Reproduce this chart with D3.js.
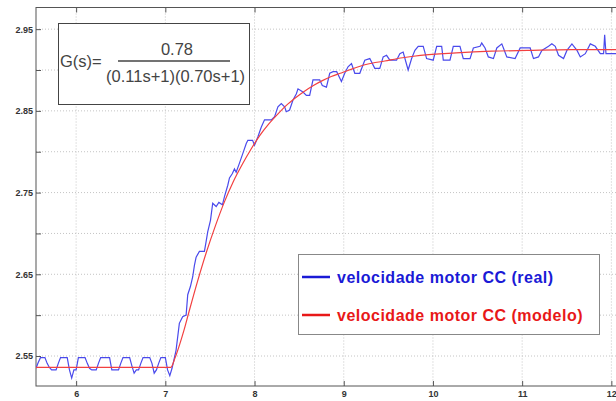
<!DOCTYPE html>
<html>
<head>
<meta charset="utf-8">
<script src="https://cdn.jsdelivr.net/npm/d3@7"></script>
<style>
  body { margin: 0; background: #fff; overflow: hidden; }
  svg { display: block; font-family: "Liberation Sans", Arial, sans-serif; }
</style>
</head>
<body>
<script>
// axis ticks
const xTicks = [6, 7, 8, 9, 10, 11, 12];
const yTicks = [2.55, 2.60, 2.65, 2.70, 2.75, 2.80, 2.85, 2.90, 2.95];
const yLabeled = [2.55, 2.65, 2.75, 2.85, 2.95];

// velocidade motor CC (real), [t, v]
const realData = [
  [5.550,2.535],[5.575,2.542],[5.600,2.548],[5.650,2.548],[5.675,2.541],[5.700,2.536],[5.725,2.533],[5.775,2.533],
  [5.800,2.541],[5.825,2.548],[5.900,2.548],[5.925,2.533],[5.950,2.523],[5.975,2.533],[6.000,2.533],[6.025,2.548],
  [6.100,2.548],[6.125,2.541],[6.150,2.535],[6.175,2.533],[6.225,2.533],[6.250,2.541],[6.275,2.548],[6.375,2.548],
  [6.400,2.533],[6.475,2.533],[6.500,2.541],[6.525,2.548],[6.600,2.548],[6.625,2.538],[6.650,2.529],[6.675,2.533],
  [6.700,2.533],[6.725,2.541],[6.750,2.548],[6.825,2.548],[6.850,2.541],[6.875,2.529],[6.900,2.533],[6.925,2.541],
  [6.950,2.548],[7.000,2.548],[7.025,2.533],[7.050,2.526],[7.075,2.535],
  [7.120,2.557],[7.157,2.590],[7.194,2.598],[7.233,2.600],[7.251,2.625],[7.281,2.635],[7.307,2.647],[7.326,2.661],
  [7.345,2.671],[7.382,2.678],[7.438,2.678],[7.457,2.690],[7.475,2.702],[7.506,2.716],[7.531,2.737],[7.570,2.733],
  [7.600,2.738],[7.640,2.735],[7.663,2.745],[7.700,2.759],[7.719,2.768],[7.750,2.773],[7.775,2.779],[7.794,2.775],
  [7.831,2.786],[7.869,2.798],[7.907,2.810],[7.925,2.814],[7.978,2.814],[8.000,2.808],[8.037,2.818],[8.075,2.830],
  [8.112,2.839],[8.188,2.839],[8.225,2.843],[8.262,2.855],[8.300,2.859],[8.337,2.855],[8.356,2.849],[8.393,2.851],
  [8.430,2.863],[8.469,2.871],[8.487,2.877],[8.543,2.873],[8.581,2.869],[8.618,2.869],[8.655,2.888],[8.730,2.888],
  [8.760,2.881],[8.806,2.879],[8.843,2.896],[8.880,2.898],[8.921,2.898],[8.974,2.886],[9.011,2.896],[9.048,2.904],
  [9.087,2.908],[9.124,2.896],[9.180,2.896],[9.236,2.912],[9.292,2.914],[9.348,2.902],[9.404,2.902],[9.442,2.916],
  [9.480,2.918],[9.517,2.912],[9.592,2.912],[9.629,2.920],[9.666,2.922],[9.722,2.900],[9.761,2.914],[9.798,2.924],
  [9.835,2.929],[9.891,2.929],[9.929,2.914],[10.003,2.912],[10.042,2.929],[10.098,2.929],[10.116,2.912],[10.191,2.912],
  [10.228,2.929],[10.303,2.929],[10.340,2.914],[10.416,2.914],[10.453,2.927],[10.528,2.929],[10.547,2.933],[10.584,2.927],
  [10.621,2.916],[10.678,2.914],[10.716,2.927],[10.772,2.932],[10.790,2.927],[10.828,2.916],[10.921,2.914],[10.978,2.927],
  [11.090,2.927],[11.127,2.914],[11.183,2.916],[11.221,2.924],[11.296,2.929],[11.333,2.932],[11.371,2.929],[11.408,2.918],
  [11.464,2.914],[11.502,2.924],[11.558,2.932],[11.615,2.924],[11.652,2.916],[11.708,2.920],[11.764,2.932],[11.820,2.929],
  [11.876,2.920],[11.913,2.920],[11.925,2.943],[11.940,2.920],[12.100,2.920]
];

// velocidade motor CC (modelo)
const modelTime  = [5.55, 7.06, 7.11, 7.16, 7.21, 7.26, 7.36, 7.46, 7.56, 7.66, 7.76, 7.86, 7.96, 8.06, 8.16, 8.26, 8.36,
                    8.46, 8.56, 8.66, 8.76, 8.86, 8.96, 9.06, 9.26, 9.46, 9.66, 9.86, 10.26, 10.66, 11.06, 11.56, 12.10];
const modelSpeed = [2.536, 2.536, 2.548, 2.564, 2.582, 2.602, 2.641, 2.677, 2.709, 2.738, 2.763, 2.784, 2.803, 2.820, 2.834, 2.846, 2.857,
                    2.866, 2.874, 2.881, 2.887, 2.892, 2.896, 2.900, 2.907, 2.911, 2.915, 2.918, 2.921, 2.923, 2.924, 2.925, 2.925];

const legendLabels = ["velocidade motor CC (real)", "velocidade motor CC (modelo)"];
const legendColors = ["#1a1ad6", "#e81818"];

const width = 616, height = 401;
// right edge of the frame lies just past the cropped picture
const mLeft = 36, mTop = 7.5, mRight = 620, mBottom = 386;

const svg = d3.select("body").append("svg")
    .attr("width", width)
    .attr("height", height);

const x = d3.scaleLinear().domain([5.55, 12.097]).range([mLeft, mRight]);
const y = d3.scaleLinear().domain([2.5133, 2.9765]).range([mBottom, mTop]);

// grid
const grid = svg.append("g").attr("stroke", "#c4c4c4").attr("stroke-dasharray", "1,2");
grid.selectAll(".gx").data(xTicks).join("line")
    .attr("x1", d => x(d)).attr("x2", d => x(d))
    .attr("y1", mTop).attr("y2", mBottom);
grid.selectAll(".gy").data(yTicks).join("line")
    .attr("y1", d => y(d)).attr("y2", d => y(d))
    .attr("x1", mLeft).attr("x2", mRight);

// axes (inward ticks, matlab style)
const styleAxis = g => {
  g.select(".domain").remove();
  g.selectAll("line").attr("stroke", "#555");
  g.selectAll("text").attr("fill", "#333").attr("font-size", 9).attr("font-weight", "bold")
    .attr("font-family", "'Liberation Sans', Arial, sans-serif");
};

svg.append("g").attr("transform", `translate(${mLeft},0)`)
  .call(d3.axisLeft(y).tickValues(yTicks).tickSize(-5).tickPadding(3)
    .tickFormat(d => yLabeled.some(v => Math.abs(v - d) < 1e-6) ? d3.format(".2f")(d) : ""))
  .call(styleAxis);

svg.append("g").attr("transform", `translate(0,${mBottom})`)
  .call(d3.axisBottom(x).tickValues(xTicks).tickSize(-5).tickPadding(5).tickFormat(d3.format("d")))
  .call(styleAxis);

svg.append("g").attr("transform", `translate(0,${mTop})`)
  .call(d3.axisTop(x).tickValues(xTicks).tickSize(-5).tickFormat(""))
  .call(styleAxis);

svg.append("rect")
    .attr("x", mLeft).attr("y", mTop)
    .attr("width", mRight - mLeft).attr("height", mBottom - mTop)
    .attr("fill", "none").attr("stroke", "#555");

// lines
svg.append("clipPath").attr("id", "plot")
  .append("rect").attr("x", mLeft).attr("y", mTop).attr("width", mRight - mLeft).attr("height", mBottom - mTop);

const plot = svg.append("g").attr("clip-path", "url(#plot)");

plot.append("path")
    .datum(realData)
    .attr("fill", "none")
    .attr("stroke", "#4a4aec")
    .attr("stroke-width", 1.2)
    .attr("d", d3.line().x(d => x(d[0])).y(d => y(d[1])));

plot.append("path")
    .datum(modelTime.map((t, i) => [t, modelSpeed[i]]))
    .attr("fill", "none")
    .attr("stroke", "#f24040")
    .attr("stroke-width", 1.2)
    .attr("d", d3.line().curve(d3.curveMonotoneX).x(d => x(d[0])).y(d => y(d[1])));

// transfer function box
const eq = svg.append("g").attr("fill", "#444").attr("font-size", 16.5);
eq.append("rect").attr("x", 58.5).attr("y", 23.5).attr("width", 191).attr("height", 81)
    .attr("fill", "#fff").attr("stroke", "#444");
eq.append("text").attr("x", 60).attr("y", 67).text("G(s)=");
eq.append("text").attr("x", 177).attr("y", 55).attr("text-anchor", "middle").text("0.78");
eq.append("line").attr("x1", 118).attr("x2", 230).attr("y1", 61).attr("y2", 61)
    .attr("stroke", "#444").attr("stroke-width", 1.3);
eq.append("text").attr("x", 106).attr("y", 82).text("(0.11s+1)(0.70s+1)");

// legend
const lg = svg.append("g");
lg.append("rect").attr("x", 298.5).attr("y", 254.5).attr("width", 301).attr("height", 80)
    .attr("fill", "#fff").attr("stroke", "#888");
legendLabels.forEach((label, i) => {
  const cy = 277 + i * 38;
  lg.append("line").attr("x1", 302).attr("x2", 330).attr("y1", cy).attr("y2", cy)
      .attr("stroke", legendColors[i]).attr("stroke-width", 2.5);
  lg.append("text").attr("x", 337).attr("y", cy + 5.5)
      .attr("fill", legendColors[i]).attr("font-size", 16).attr("font-weight", "bold")
      .attr("letter-spacing", 0.5)
      .text(label);
});
</script>
</body>
</html>
